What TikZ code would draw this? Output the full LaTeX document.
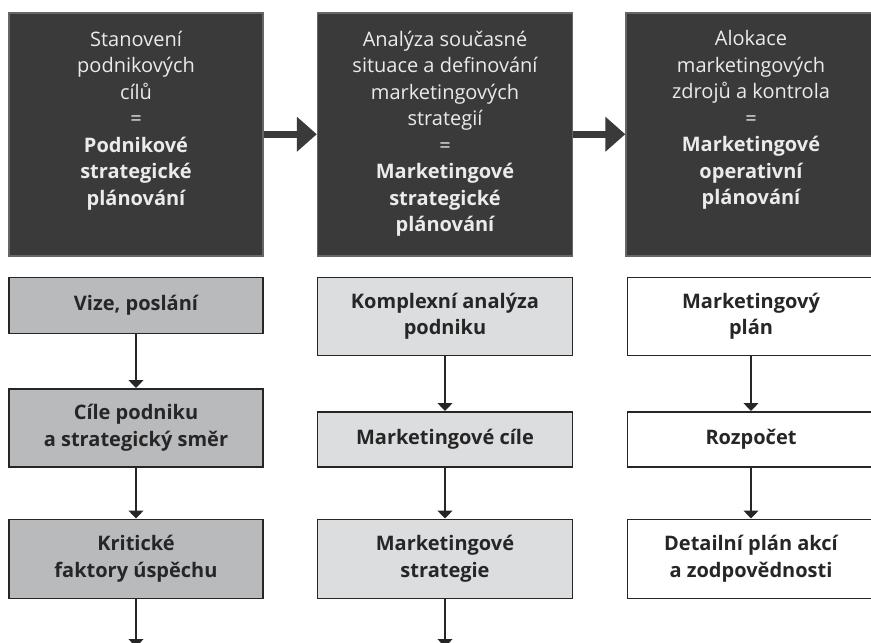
\documentclass[tikz,border=0pt]{standalone}
\usepackage{fontspec}
\setmainfont{Open Sans}
\usetikzlibrary{arrows.meta,positioning}
\definecolor{headgray}{HTML}{3A3A3A}
\definecolor{corpgray}{HTML}{B9BABC}
\definecolor{mktgray}{HTML}{DCDDDF}
\definecolor{inkgray}{HTML}{262626}
\newcommand{\headtext}[2]{\parbox[c][243pt][t]{250pt}{\centering\vspace*{18pt}%
  \mdseries #1\\=\\\bfseries #2}}

\begin{document}
\begin{tikzpicture}[
  every node/.style={draw=inkgray,line width=1.5pt,inner sep=0pt,align=center,
    font=\fontsize{20}{26.5}\selectfont\bfseries,text=inkgray},
  head/.style={fill=headgray,draw=black!60,text=white!92!black,anchor=north},
  corp/.style={fill=corpgray,minimum width=254pt},
  mkt/.style={fill=mktgray,minimum width=255pt},
  oper/.style={fill=white,minimum width=247pt},
  flow/.style={-{Triangle[width=15pt,length=8pt]},line width=1.3pt,draw=inkgray},
  bigflow/.style={-{Triangle[width=34pt,length=20pt]},line width=7pt,draw=headgray}]
\useasboundingbox (0,0) rectangle (871pt,-643pt);
\node[head,minimum width=254pt] (goals) at (136pt,-12pt)
  {\headtext{Stanovení\\podnikových\\cílů}{Podnikové\\strategické\\plánování}};
\node[head,right=53pt of goals,minimum width=255pt] (analysis)
  {\headtext{Analýza současné\\situace a definování\\marketingových\\strategií}{Marketingové\\strategické\\plánování}};
\node[head,right=52pt of analysis,minimum width=247pt] (alloc)
  {\headtext{Alokace\\marketingových\\zdrojů a kontrola}{Marketingové\\operativní\\plánování}};

\node[corp,below=20pt of goals,minimum height=56pt] (vision) {Vize, poslání};
\node[corp,below=54pt of vision,minimum height=78pt] (aims) {Cíle podniku\\a strategický směr};
\node[corp,below=51pt of aims,minimum height=79pt] (factors) {Kritické\\faktory úspěchu};

\node[mkt,below=20pt of analysis,minimum height=78pt] (complex) {Komplexní analýza\\podniku};
\node[mkt,below=55pt of complex,minimum height=55pt] (mgoals) {Marketingové cíle};
\node[mkt,below=51pt of mgoals,minimum height=79pt] (mstrat) {Marketingové\\strategie};

\node[oper,below=20pt of alloc,minimum height=78pt] (plan) {Marketingový\\plán};
\node[oper,below=55pt of plan,minimum height=55pt] (budget) {Rozpočet};
\node[oper,below=51pt of budget,minimum height=79pt] (actions) {Detailní plán akcí\\a zodpovědnosti};

\coordinate (corpend) at ([yshift=-48pt]factors.south);
\coordinate (mktend) at ([yshift=-48pt]mstrat.south);

\draw[bigflow] (goals) -- (analysis);
\draw[bigflow] (analysis) -- (alloc);
\draw[flow] (vision) -- (aims);
\draw[flow] (aims) -- (factors);
\draw[flow] (factors) -- (corpend);
\draw[flow] (complex) -- (mgoals);
\draw[flow] (mgoals) -- (mstrat);
\draw[flow] (mstrat) -- (mktend);
\draw[flow] (plan) -- (budget);
\draw[flow] (budget) -- (actions);
\end{tikzpicture}
\end{document}
